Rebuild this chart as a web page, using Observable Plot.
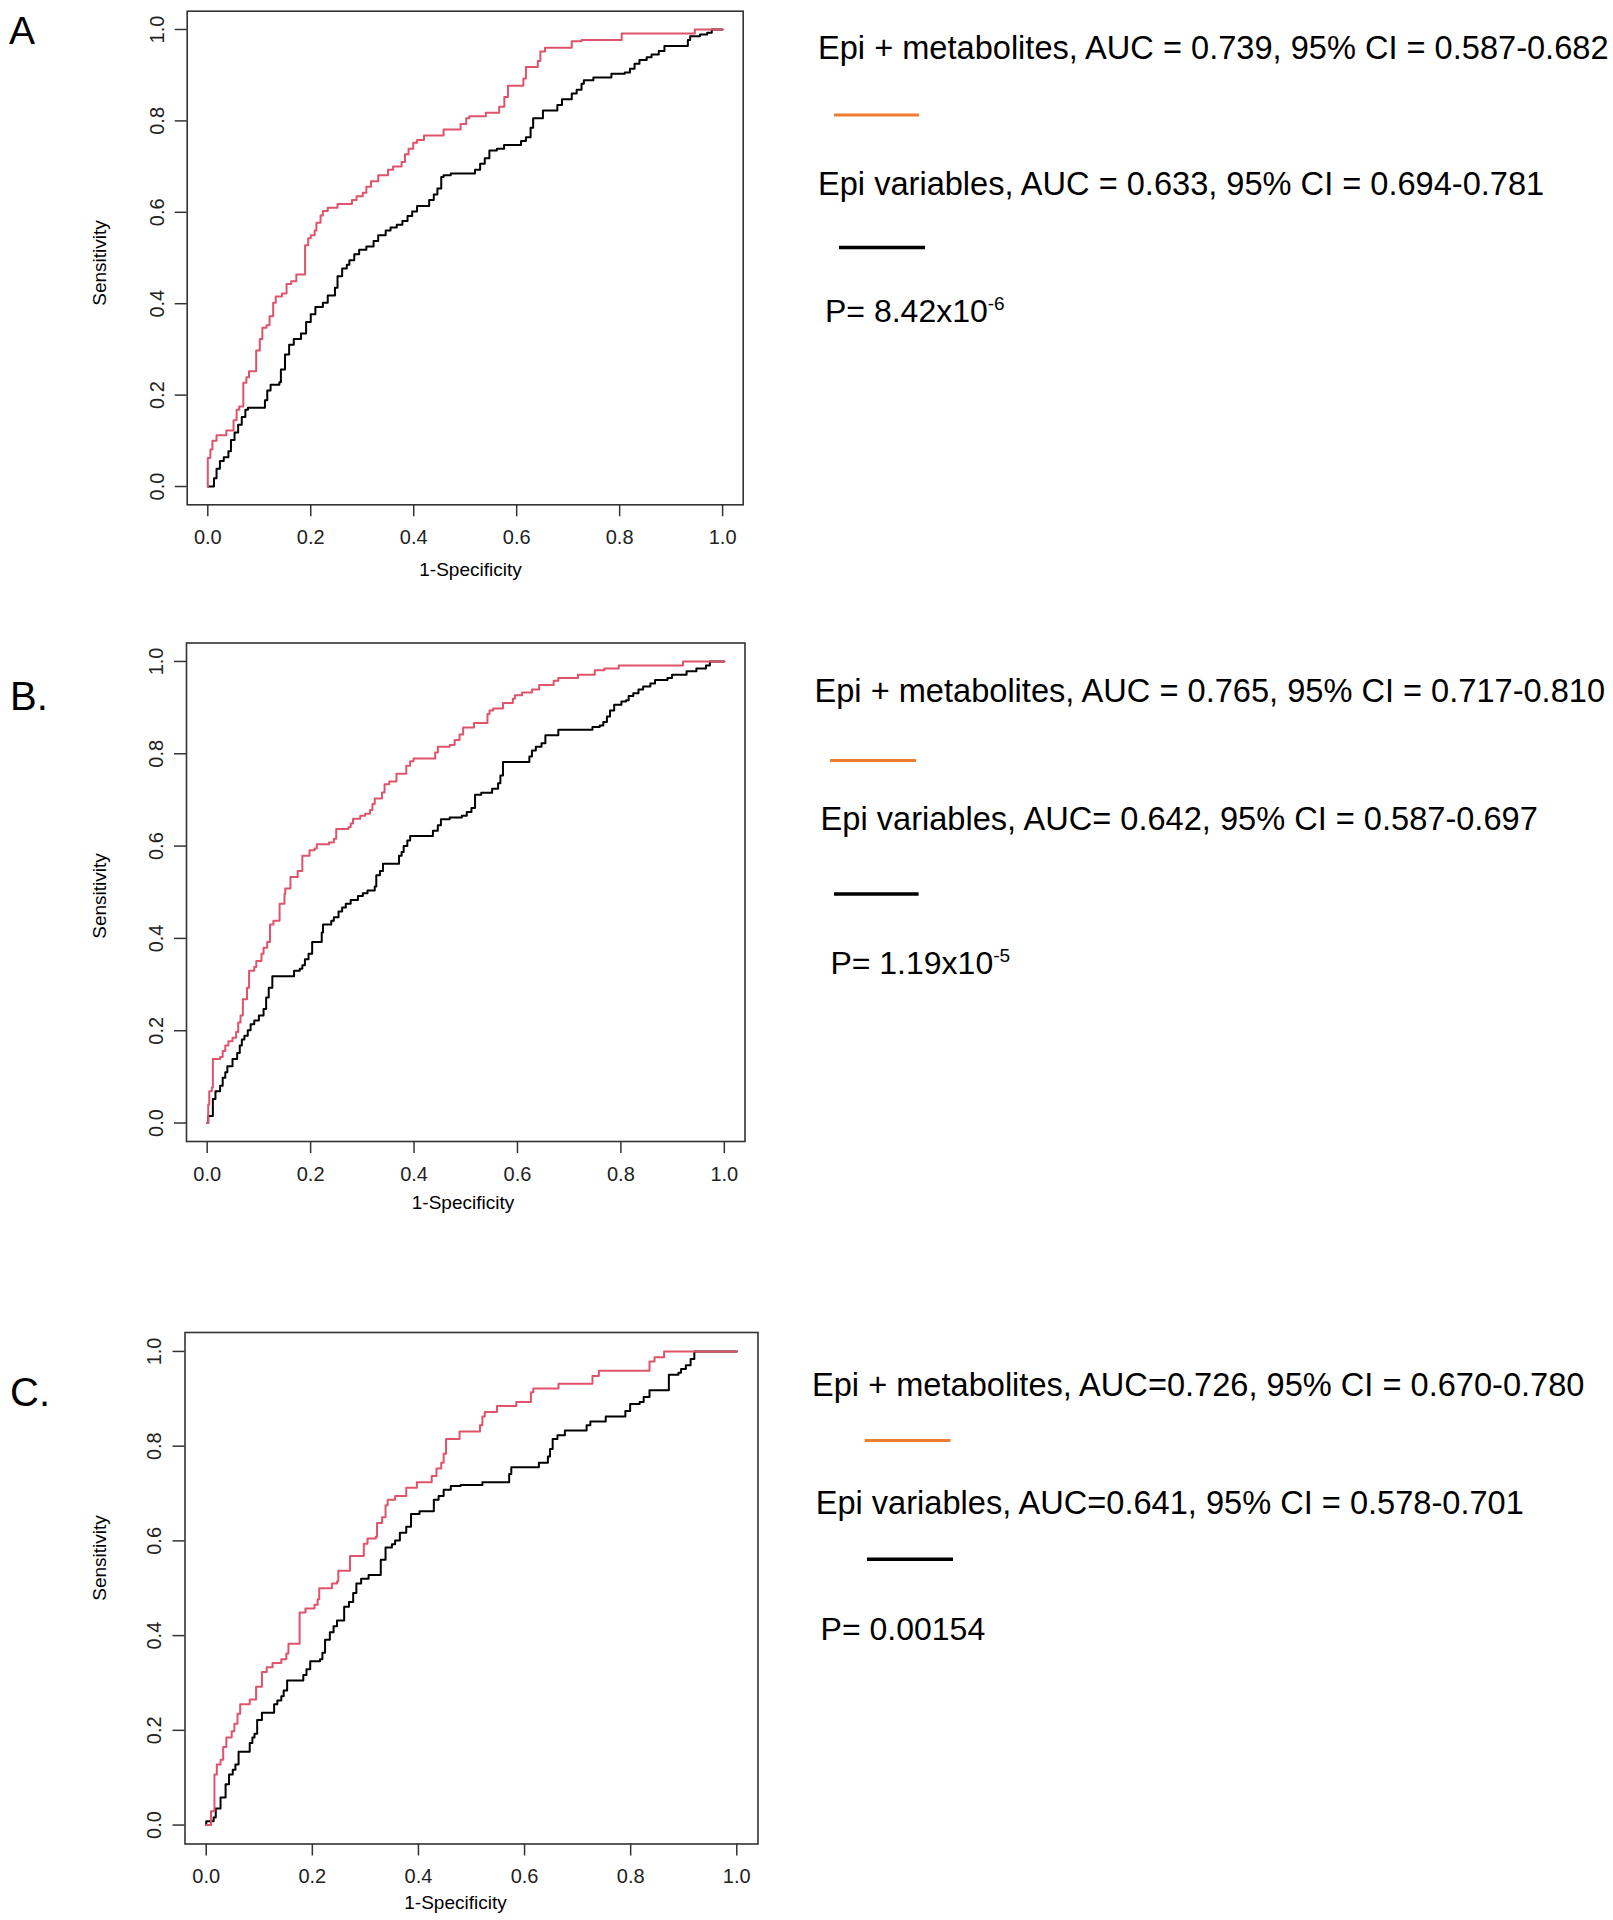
<!DOCTYPE html>
<html>
<head>
<meta charset="utf-8">
<script src="https://cdn.jsdelivr.net/npm/d3@7"></script>
<script src="https://cdn.jsdelivr.net/npm/@observablehq/plot@0.6"></script>
<style>
  html, body { margin: 0; padding: 0; background: #fff; }
  #page { position: relative; width: 1613px; height: 1920px; background: #fff; overflow: hidden;
          font-family: "Liberation Sans", Arial, sans-serif; }
  .panel { position: absolute; left: 0; }
  #overlay { position: absolute; left: 0; top: 0; pointer-events: none; }
</style>
</head>
<body>
<div id="page"></div>
<script>
// ---------------- DATA ----------------
const axisTicks = [0, 0.2, 0.4, 0.6, 0.8, 1.0];
const panelLabels = ["A", "B.", "C."];
const comboLabels = [
  "Epi + metabolites, AUC = 0.739, 95% CI = 0.587-0.682",
  "Epi + metabolites, AUC = 0.765, 95% CI = 0.717-0.810",
  "Epi + metabolites, AUC=0.726, 95% CI = 0.670-0.780"
];
const epiLabels = [
  "Epi variables, AUC = 0.633, 95% CI = 0.694-0.781",
  "Epi variables, AUC= 0.642, 95% CI = 0.587-0.697",
  "Epi variables, AUC=0.641, 95% CI = 0.578-0.701"
];
const pMain = ["P= 8.42x10", "P= 1.19x10", "P= 0.00154"];
const pExp = ["-6", "-5", ""];

// ROC step vertices [1-specificity, sensitivity]
const aCombo = [[0,0],[0,0.0625],[0.005,0.081],[0.009,0.100],[0.017,0.112],[0.036,0.1225],[0.050,0.145],[0.056,0.168],[0.061,0.175],[0.069,0.227],[0.075,0.239],[0.080,0.252],[0.094,0.2975],[0.101,0.3225],[0.106,0.3475],[0.114,0.353],[0.120,0.3725],[0.127,0.402],[0.132,0.416],[0.144,0.4225],[0.153,0.443],[0.162,0.449],[0.172,0.464],[0.189,0.528],[0.195,0.543],[0.200,0.550],[0.2075,0.560],[0.211,0.577],[0.219,0.593],[0.2235,0.603],[0.233,0.610],[0.252,0.618],[0.280,0.627],[0.289,0.635],[0.301,0.643],[0.308,0.656],[0.317,0.668],[0.331,0.681],[0.350,0.693],[0.360,0.700],[0.3765,0.710],[0.383,0.727],[0.390,0.739],[0.399,0.752],[0.4065,0.758],[0.420,0.768],[0.458,0.781],[0.491,0.793],[0.502,0.806],[0.508,0.810],[0.540,0.818],[0.566,0.831],[0.576,0.852],[0.583,0.877],[0.613,0.893],[0.618,0.918],[0.641,0.931],[0.646,0.952],[0.655,0.960],[0.707,0.974],[0.726,0.977],[0.804,0.991],[0.946,1.0],[1,1]];
const aEpi = [[0,0],[0.012,0],[0.012,0.018],[0.017,0.039],[0.0235,0.056],[0.031,0.064],[0.040,0.077],[0.045,0.102],[0.052,0.118],[0.059,0.135],[0.066,0.152],[0.073,0.168],[0.078,0.1725],[0.111,0.189],[0.1155,0.210],[0.122,0.2225],[0.139,0.228],[0.142,0.256],[0.150,0.289],[0.158,0.310],[0.167,0.3225],[0.181,0.335],[0.191,0.360],[0.200,0.377],[0.209,0.393],[0.2235,0.402],[0.233,0.418],[0.247,0.435],[0.252,0.460],[0.261,0.477],[0.270,0.485],[0.275,0.495],[0.2845,0.508],[0.294,0.518],[0.308,0.525],[0.322,0.537],[0.331,0.550],[0.3455,0.560],[0.355,0.567],[0.367,0.5725],[0.378,0.581],[0.388,0.592],[0.397,0.602],[0.4065,0.614],[0.430,0.627],[0.439,0.639],[0.446,0.652],[0.4535,0.677],[0.458,0.681],[0.472,0.685],[0.519,0.693],[0.529,0.706],[0.538,0.718],[0.547,0.735],[0.5615,0.739],[0.5755,0.7475],[0.6085,0.756],[0.618,0.764],[0.627,0.785],[0.632,0.806],[0.651,0.8225],[0.679,0.835],[0.688,0.8475],[0.707,0.860],[0.7165,0.868],[0.726,0.881],[0.7305,0.889],[0.749,0.895],[0.784,0.903],[0.810,0.906],[0.820,0.914],[0.829,0.925],[0.8385,0.933],[0.8525,0.939],[0.862,0.945],[0.876,0.953],[0.887,0.964],[0.9325,0.977],[0.937,0.985],[0.956,0.989],[0.970,0.993],[0.979,1.0],[1,1]];

const bCombo = [[0,0],[0.002,0.040],[0.004,0.069],[0.009,0.077],[0.011,0.139],[0.025,0.143],[0.030,0.156],[0.035,0.168],[0.041,0.177],[0.049,0.185],[0.056,0.197],[0.060,0.218],[0.0645,0.233],[0.069,0.268],[0.077,0.293],[0.081,0.330],[0.091,0.338],[0.095,0.351],[0.105,0.367],[0.109,0.380],[0.116,0.392],[0.1215,0.430],[0.128,0.438],[0.140,0.475],[0.1495,0.496],[0.151,0.508],[0.161,0.533],[0.175,0.546],[0.184,0.579],[0.198,0.591],[0.2075,0.595],[0.212,0.604],[0.2355,0.608],[0.245,0.616],[0.2495,0.637],[0.273,0.641],[0.2775,0.649],[0.282,0.659],[0.296,0.666],[0.3055,0.670],[0.315,0.678],[0.3195,0.691],[0.324,0.703],[0.338,0.716],[0.343,0.734],[0.352,0.740],[0.366,0.757],[0.385,0.774],[0.3925,0.784],[0.399,0.790],[0.441,0.803],[0.446,0.815],[0.469,0.819],[0.4785,0.830],[0.488,0.842],[0.495,0.857],[0.516,0.8665],[0.542,0.886],[0.546,0.894],[0.553,0.898],[0.572,0.910],[0.591,0.919],[0.595,0.927],[0.609,0.933],[0.628,0.939],[0.642,0.949],[0.670,0.958],[0.679,0.964],[0.717,0.971],[0.7495,0.981],[0.768,0.985],[0.796,0.991],[0.920,1.0],[1,1]];
const bEpi = [[0,0],[0.002,0.015],[0.011,0.052],[0.016,0.069],[0.025,0.081],[0.030,0.098],[0.035,0.110],[0.039,0.123],[0.049,0.139],[0.058,0.152],[0.063,0.168],[0.067,0.181],[0.072,0.189],[0.0785,0.201],[0.084,0.214],[0.091,0.222],[0.100,0.233],[0.109,0.247],[0.114,0.272],[0.119,0.293],[0.126,0.318],[0.168,0.330],[0.179,0.334],[0.184,0.342],[0.189,0.355],[0.196,0.367],[0.203,0.392],[0.2215,0.413],[0.224,0.430],[0.240,0.438],[0.245,0.446],[0.254,0.4585],[0.261,0.467],[0.268,0.475],[0.2775,0.483],[0.2915,0.492],[0.301,0.498],[0.310,0.504],[0.324,0.5125],[0.327,0.537],[0.334,0.546],[0.340,0.562],[0.371,0.579],[0.376,0.587],[0.380,0.600],[0.387,0.612],[0.3925,0.622],[0.4365,0.633],[0.446,0.645],[0.452,0.658],[0.469,0.662],[0.4925,0.666],[0.502,0.674],[0.511,0.6825],[0.518,0.711],[0.530,0.7155],[0.551,0.724],[0.5625,0.736],[0.567,0.753],[0.572,0.782],[0.623,0.794],[0.628,0.807],[0.6355,0.815],[0.6465,0.823],[0.654,0.840],[0.679,0.852],[0.745,0.858],[0.759,0.861],[0.766,0.869],[0.773,0.881],[0.779,0.894],[0.787,0.906],[0.801,0.913],[0.810,0.916],[0.815,0.925],[0.824,0.931],[0.834,0.939],[0.843,0.946],[0.857,0.952],[0.866,0.960],[0.890,0.964],[0.899,0.971],[0.927,0.979],[0.946,0.985],[0.9645,0.991],[0.972,1.0],[1,1]];

const cCombo = [[0,0],[0.009,0.029],[0.0155,0.107],[0.020,0.128],[0.027,0.138],[0.032,0.165],[0.038,0.185],[0.048,0.198],[0.053,0.214],[0.059,0.235],[0.064,0.255],[0.082,0.265],[0.094,0.292],[0.105,0.323],[0.114,0.333],[0.125,0.342],[0.1415,0.350],[0.151,0.362],[0.155,0.383],[0.176,0.449],[0.187,0.457],[0.204,0.465],[0.210,0.477],[0.213,0.500],[0.237,0.510],[0.2465,0.514],[0.249,0.537],[0.271,0.568],[0.297,0.594],[0.304,0.605],[0.3195,0.609],[0.322,0.638],[0.3315,0.650],[0.338,0.675],[0.342,0.687],[0.356,0.695],[0.377,0.712],[0.397,0.724],[0.425,0.737],[0.434,0.753],[0.443,0.765],[0.4475,0.784],[0.452,0.815],[0.4775,0.831],[0.516,0.844],[0.5205,0.8625],[0.525,0.872],[0.548,0.885],[0.5845,0.893],[0.612,0.914],[0.6165,0.922],[0.664,0.932],[0.728,0.948],[0.740,0.959],[0.8355,0.979],[0.845,0.988],[0.863,1.0],[1,1]];
const cEpi = [[0,0],[0,0.008],[0.014,0.016],[0.018,0.035],[0.027,0.058],[0.0365,0.086],[0.043,0.107],[0.050,0.117],[0.055,0.128],[0.061,0.155],[0.082,0.173],[0.087,0.185],[0.091,0.193],[0.096,0.222],[0.105,0.237],[0.128,0.255],[0.134,0.263],[0.1415,0.272],[0.146,0.284],[0.1525,0.305],[0.183,0.317],[0.189,0.329],[0.196,0.346],[0.2145,0.350],[0.219,0.364],[0.224,0.391],[0.233,0.407],[0.240,0.420],[0.2465,0.432],[0.260,0.461],[0.269,0.471],[0.277,0.490],[0.283,0.510],[0.292,0.520],[0.306,0.528],[0.329,0.560],[0.338,0.586],[0.350,0.593],[0.356,0.601],[0.365,0.617],[0.377,0.630],[0.386,0.657],[0.402,0.6625],[0.429,0.687],[0.438,0.695],[0.4475,0.708],[0.461,0.716],[0.4795,0.718],[0.5205,0.724],[0.571,0.741],[0.575,0.7555],[0.627,0.765],[0.644,0.778],[0.648,0.794],[0.653,0.815],[0.662,0.823],[0.676,0.833],[0.717,0.844],[0.724,0.852],[0.753,0.8625],[0.790,0.874],[0.799,0.889],[0.817,0.893],[0.8245,0.904],[0.8355,0.918],[0.872,0.951],[0.890,0.955],[0.895,0.963],[0.904,0.971],[0.913,0.984],[0.920,1.0],[1,1]];

// ---------------- STYLE / LAYOUT ----------------
const FONT = '"Liberation Sans", Arial, sans-serif';
const RED = "#DF536B", BLACK = "#000000", ORANGE = "#ED7D31", AXIS = "#333333", TICKTEXT = "#222222";
const LEGEND_SIZE = 32.6;

const panels = [
  { combo: aCombo, epi: aEpi, top: 0,    height: 600, frame: {l: 186.7, r: 742.7, t: 10.7,  b: 504.3},
    ylab: {cy: 262.5}, xlab: {cx: 470, base: 575} },
  { combo: bCombo, epi: bEpi, top: 620,  height: 620, frame: {l: 186,   r: 744.5, t: 642.5, b: 1141},
    ylab: {cy: 895.5}, xlab: {cx: 462.5, base: 1208.5} },
  { combo: cCombo, epi: cEpi, top: 1310, height: 610, frame: {l: 184.5, r: 757.5, t: 1332,  b: 1843.5},
    ylab: {cy: 1557.5}, xlab: {cx: 455, base: 1908.5} }
];
const SVGW = 780;
const fmt = d3.format(".1f");

const page = document.getElementById("page");

panels.forEach((p) => {
  const f = p.frame;
  const mt = f.t - p.top, mb = p.top + p.height - f.b, ml = f.l, mr = SVGW - f.r;
  const frameMidY = (f.t + f.b) / 2, frameMidX = (f.l + f.r) / 2;
  const chart = Plot.plot({
    width: SVGW, height: p.height,
    marginTop: mt, marginBottom: mb, marginLeft: ml, marginRight: mr,
    x: { domain: [-0.04, 1.04] },
    y: { domain: [-0.04, 1.04] },
    style: { fontFamily: FONT, fontSize: "20px", color: TICKTEXT, background: "transparent", overflow: "visible" },
    marks: [
      Plot.axisX({ ticks: axisTicks, tickSize: 12, tickPadding: 13.2, tickFormat: fmt, label: null,
                   stroke: AXIS, strokeWidth: 1.5, fill: TICKTEXT }),
      Plot.axisY({ ticks: axisTicks, tickSize: 12, tickFormat: () => "", label: null,
                   stroke: AXIS, strokeWidth: 1.5 }),
      Plot.text(axisTicks, { y: d => d, frameAnchor: "left", text: d => fmt(d), rotate: -90,
                   dx: -30, lineAnchor: "middle", textAnchor: "middle", fill: TICKTEXT, fontSize: 20 }),
      Plot.text(["Sensitivity"], { frameAnchor: "left", rotate: -90, dx: 99 - f.l, dy: p.ylab.cy - frameMidY,
                   lineAnchor: "middle", textAnchor: "middle", fill: "#000", fontSize: 19 }),
      Plot.text(["1-Specificity"], { frameAnchor: "bottom", dx: p.xlab.cx - frameMidX, dy: p.xlab.base - f.b,
                   lineAnchor: "bottom", textAnchor: "middle", fill: "#000", fontSize: 19 }),
      Plot.line(p.epi, { x: d => d[0], y: d => d[1], curve: "step-after", stroke: BLACK, strokeWidth: 2 }),
      Plot.line(p.combo, { x: d => d[0], y: d => d[1], curve: "step-after", stroke: RED, strokeWidth: 2 }),
      Plot.frame({ stroke: AXIS, strokeWidth: 1.6 })
    ]
  });
  chart.classList.add("panel");
  chart.style.top = p.top + "px";
  page.appendChild(chart);
});

// ---------------- ANNOTATION OVERLAY ----------------
const ann = [
  { lab: {x: 9,  base: 44,   size: 39}, l1: {x: 818,   base: 59.3},  orange: {x1: 834,   x2: 919,   y: 115},
    l2: {x: 818,   base: 195},    black: {x1: 839, x2: 925,   y: 247.4}, p: {x: 825,   base: 321.7} },
  { lab: {x: 10, base: 710,  size: 40}, l1: {x: 814.5, base: 702},   orange: {x1: 830,   x2: 916,   y: 760.6},
    l2: {x: 820.6, base: 830.4},  black: {x1: 834, x2: 918.6, y: 894},   p: {x: 830.4, base: 973.7} },
  { lab: {x: 10, base: 1406, size: 40}, l1: {x: 812,   base: 1396.3}, orange: {x1: 864.7, x2: 950.5, y: 1440.4},
    l2: {x: 815.7, base: 1513.8}, black: {x1: 867, x2: 953,   y: 1559.2}, p: {x: 820.6, base: 1640} }
];

const svg = d3.select(page).append("svg")
  .attr("id", "overlay").attr("width", 1613).attr("height", 1920)
  .style("font-family", FONT);

ann.forEach((a, i) => {
  svg.append("text").attr("x", a.lab.x).attr("y", a.lab.base).attr("font-size", a.lab.size)
     .attr("fill", "#000").text(panelLabels[i]);
  svg.append("text").attr("x", a.l1.x).attr("y", a.l1.base).attr("font-size", LEGEND_SIZE)
     .attr("fill", "#000").text(comboLabels[i]);
  svg.append("line").attr("x1", a.orange.x1).attr("x2", a.orange.x2).attr("y1", a.orange.y).attr("y2", a.orange.y)
     .attr("stroke", ORANGE).attr("stroke-width", 3);
  svg.append("text").attr("x", a.l2.x).attr("y", a.l2.base).attr("font-size", LEGEND_SIZE)
     .attr("fill", "#000").text(epiLabels[i]);
  svg.append("line").attr("x1", a.black.x1).attr("x2", a.black.x2).attr("y1", a.black.y).attr("y2", a.black.y)
     .attr("stroke", "#000").attr("stroke-width", 3.5);
  const t = svg.append("text").attr("x", a.p.x).attr("y", a.p.base).attr("font-size", 32).attr("fill", "#000");
  t.append("tspan").text(pMain[i]);
  if (pExp[i]) t.append("tspan").attr("dy", -12).attr("font-size", 19).text(pExp[i]);
});
</script>
</body>
</html>
